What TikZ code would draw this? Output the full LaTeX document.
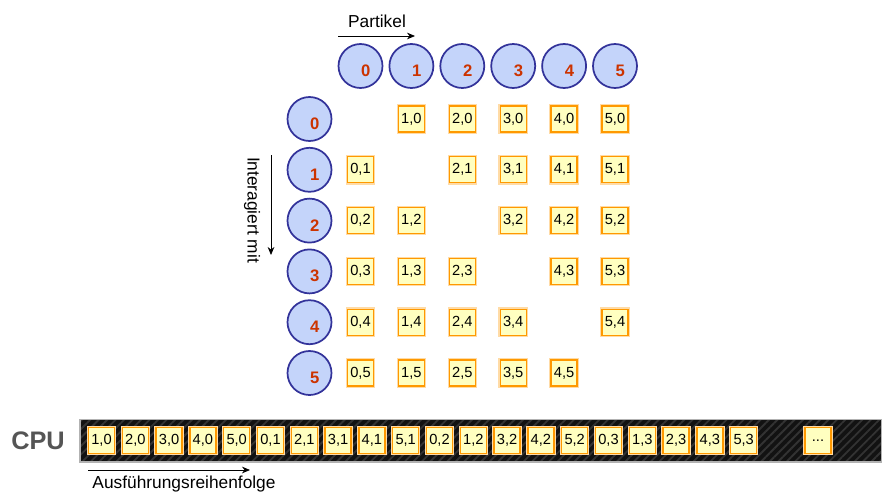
\documentclass[tikz,border=0pt]{standalone}
\usepackage{fontspec}
\setmainfont{Liberation Sans}
\usetikzlibrary{arrows.meta,positioning,patterns.meta}
\definecolor{ballfill}{HTML}{C4D4FA}
\definecolor{ballline}{HTML}{33339A}
\definecolor{numred}{HTML}{CC3300}
\definecolor{slotfill}{HTML}{FFFFC0}
\definecolor{slotline}{HTML}{FF9900}
\definecolor{cpugray}{HTML}{555555}

\begin{document}
\begin{tikzpicture}[
    x=0.75pt, y=-0.75pt,
    ball/.style={circle, draw=ballline, line width=1.3pt, fill=ballfill, minimum size=33pt, inner sep=0pt},
    ballnum/.style={font=\fontsize{12.5}{13}\selectfont\bfseries, text=numred, xshift=4pt, yshift=-3.5pt},
    pair/.style={rectangle, draw=slotline, line width=1pt, fill=slotfill, minimum size=19.5pt, inner sep=0pt, font=\fontsize{11}{12}\selectfont, preaction={draw=slotline!35, line width=2.6pt}},
    caption/.style={font=\fontsize{13}{15}\selectfont},
    arrow/.style={-{Stealth[length=6pt,width=5pt]}, line width=0.6pt}
]
  \useasboundingbox (0,0) rectangle (882,493);

  % Particles (columns)
  \foreach \i in {0,...,5}
    \node[ball, label={[ballnum]center:\i}] (p\i) at (360.5+50.9*\i, 66) {};

  % Interaction partners (rows)
  \foreach \j in {0,...,5}
    \node[ball, label={[ballnum]center:\j}] (q\j) at (309.5, 119+50.8*\j) {};

  % Pair matrix
  \foreach \j in {0,...,5}
    \foreach \i in {0,...,5} {
      \ifnum\i=\j\else
        \node[pair] (m\i\j) at (p\i |- q\j) {\i,\j};
      \fi
    }

  % Axis captions
  \coordinate (partS) at (338,36);
  \coordinate (partE) at (415,36);
  \draw[arrow] (partS) -- (partE);
  \node[caption] (partikel) at (377,21) {Partikel};

  \coordinate (interS) at (271,155);
  \coordinate (interE) at (271,255);
  \draw[arrow] (interS) -- (interE);
  \node[caption, rotate=-90] (inter) at (252,210) {Interagiert mit};

  % CPU lane
  \node[rectangle, draw=gray!60, line width=1pt, minimum width=601.5pt, minimum height=32pt, inner sep=0pt,
        preaction={fill=black!93}, pattern={Lines[angle=45, distance=4.5pt, line width=1.4pt]},
        pattern color=black!80] (cpu) at (481,440.5) {};
  \node[font=\fontsize{19}{21}\selectfont\bfseries, text=cpugray] (cpulabel) at (38,441) {CPU};

  \foreach \lab [count=\k from 0] in {{1,0},{2,0},{3,0},{4,0},{5,0},{0,1},{2,1},{3,1},{4,1},{5,1},
                                      {0,2},{1,2},{3,2},{4,2},{5,2},{0,3},{1,3},{2,3},{4,3},{5,3}}
    \node[pair] (s\k) at (101.5+33.8*\k, 440.5) {\lab};
  \node[pair] (more) at (818,440.5) {...};

  \coordinate (orderS) at (88,470);
  \coordinate (orderE) at (250,470);
  \draw[arrow] (orderS) -- (orderE);
  \node[caption] (order) at (184,484) {Ausführungsreihenfolge};
\end{tikzpicture}
\end{document}
